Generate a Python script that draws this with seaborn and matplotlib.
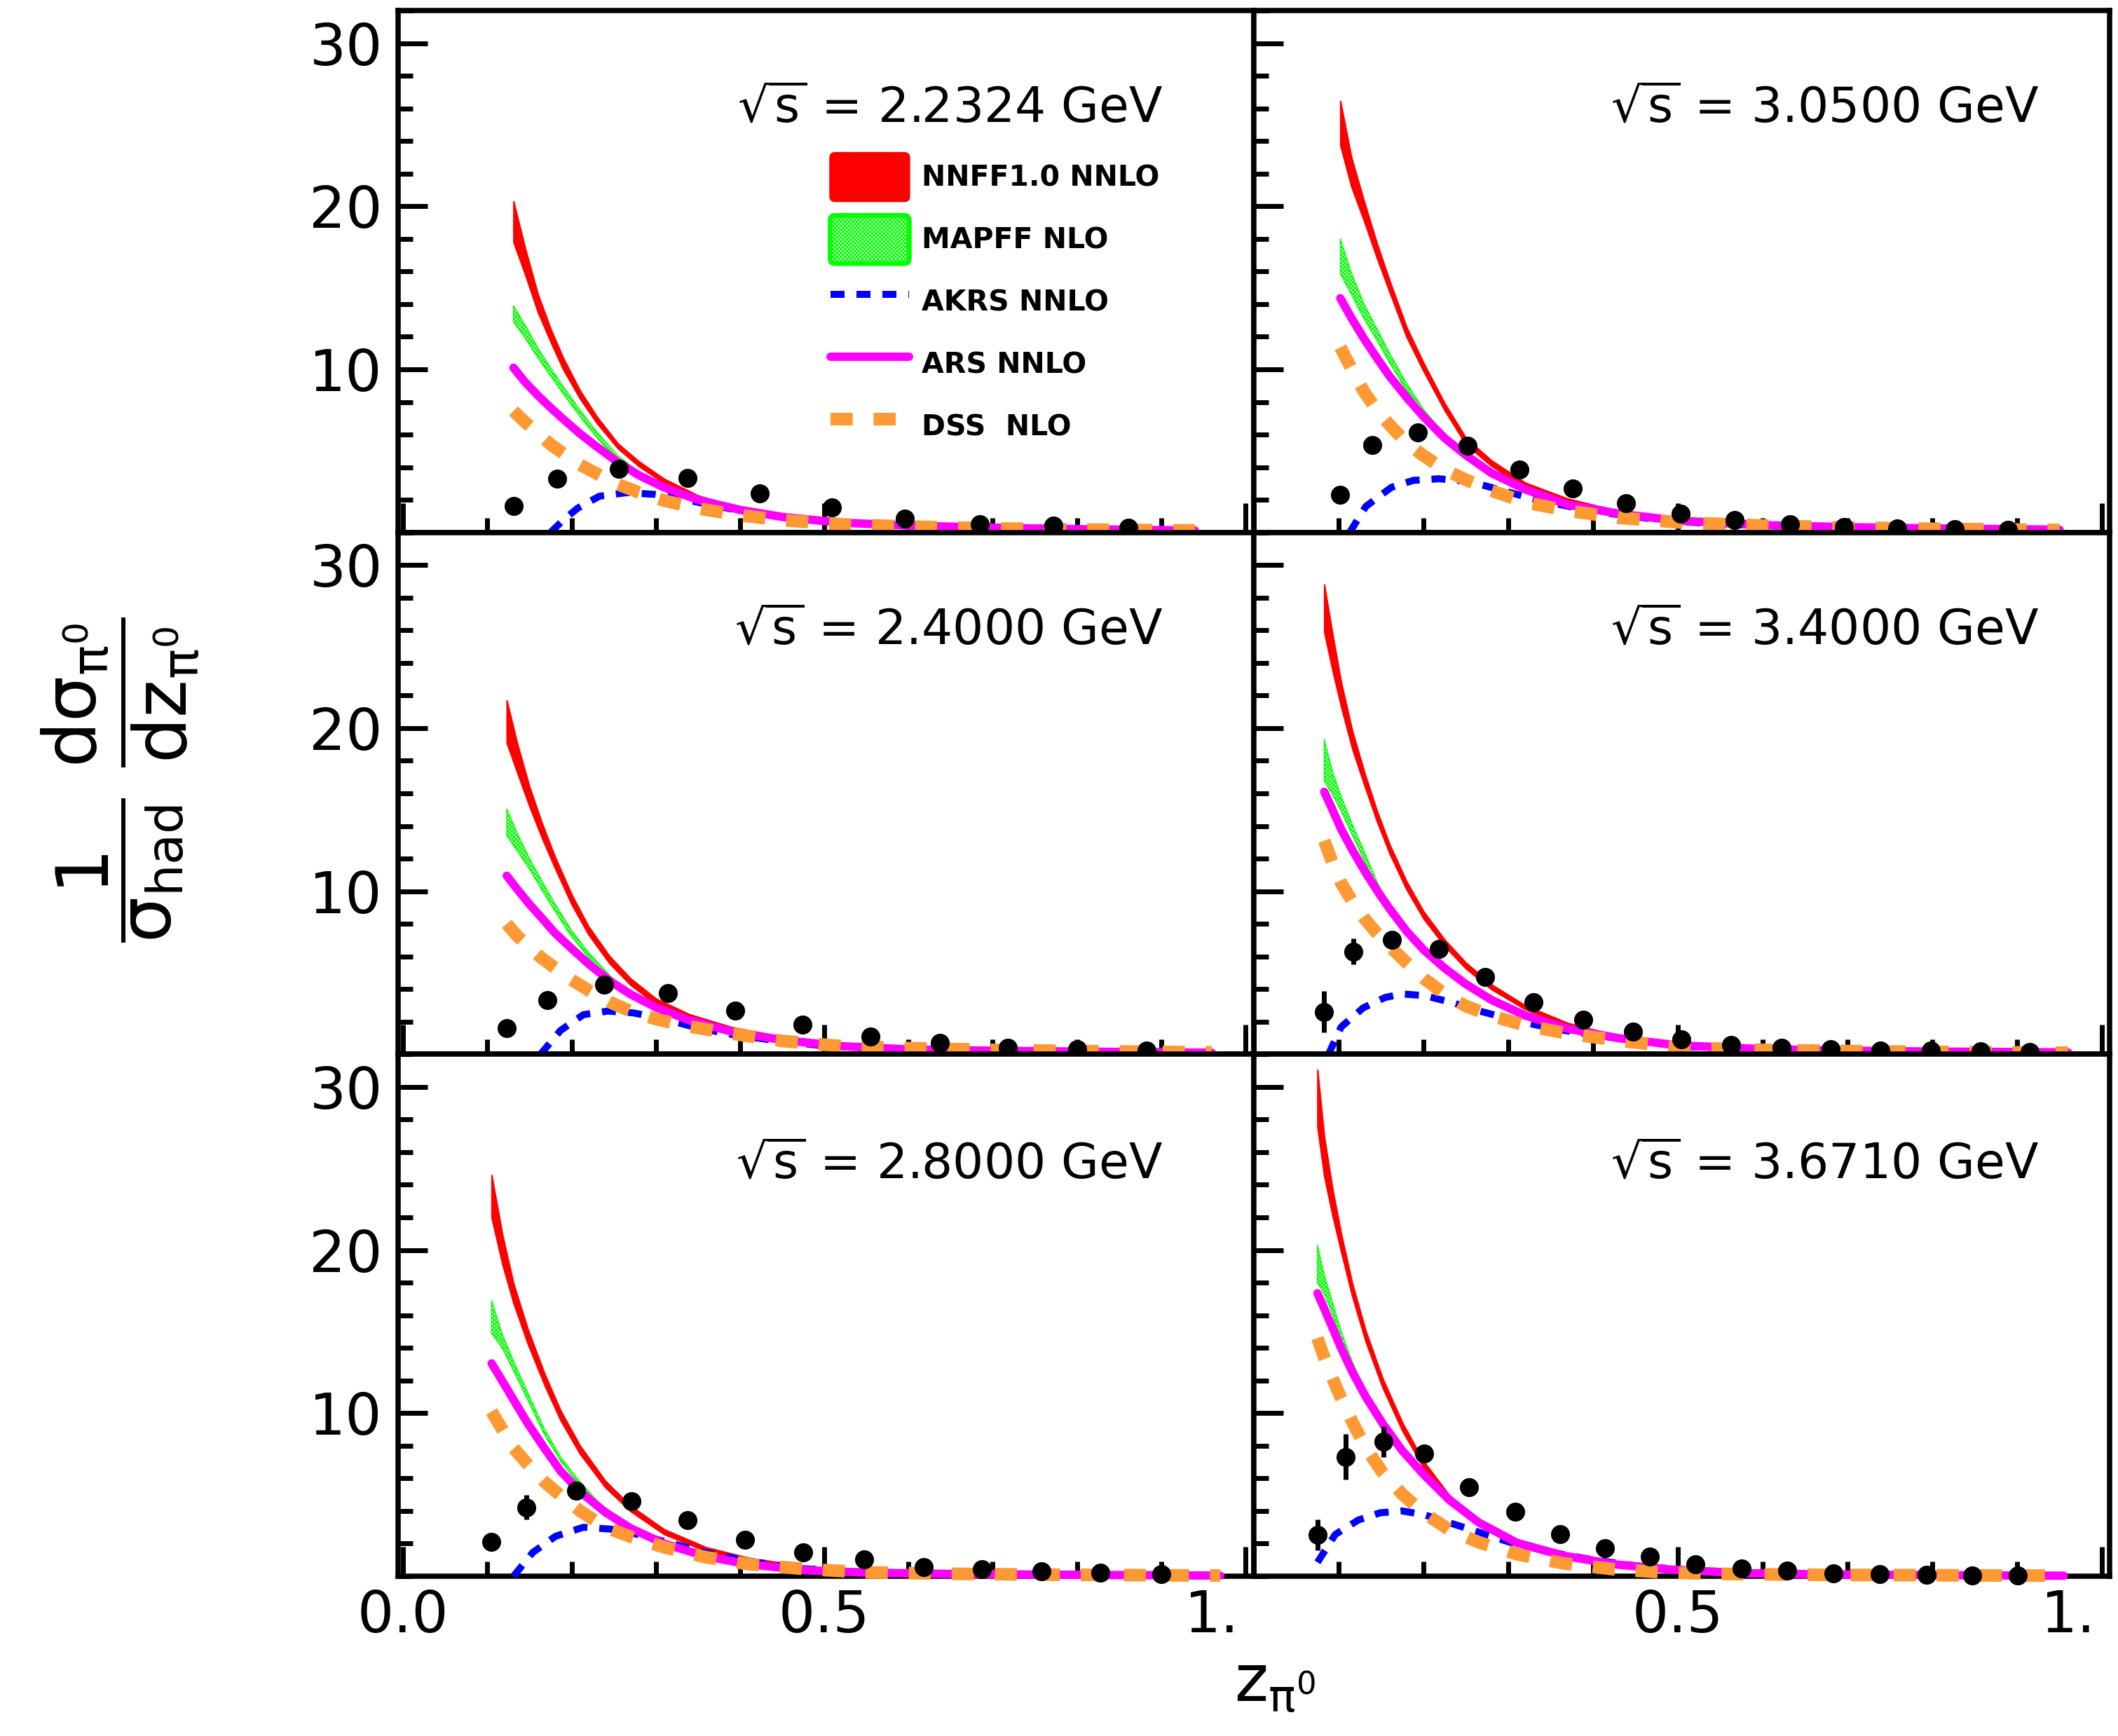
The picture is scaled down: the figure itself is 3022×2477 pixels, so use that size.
import matplotlib
matplotlib.use("Agg")
import matplotlib.pyplot as plt
import matplotlib.patches as mpatches
import matplotlib.transforms as mtransforms
from matplotlib.lines import Line2D
from matplotlib.legend_handler import HandlerPatch
from matplotlib.ticker import MultipleLocator, FixedLocator
import seaborn as sns

# ---------------------------------------------------------------------------
# sqrt(s) = 2.2324 GeV
# ---------------------------------------------------------------------------
z_pts_2232 = [0.131, 0.183, 0.256, 0.338, 0.423, 0.509, 0.596, 0.685, 0.772, 0.861]
y_pts_2232 = [1.6, 3.3, 3.9, 3.35, 2.4, 1.55, 0.85, 0.5, 0.4, 0.3]
err_2232 = [0.15, 0.2, 0.2, 0.2, 0.15, 0.15, 0.15, 0.1, 0.1, 0.1]
z_th_2232 = [0.131, 0.145, 0.16, 0.175, 0.19, 0.21, 0.23, 0.255, 0.28, 0.31, 0.35, 0.40, 0.45, 0.52, 0.60, 0.70, 0.80, 0.94]
nnff_lo_2232 = [17.8, 15.8, 13.5, 11.7, 10.0, 8.2, 6.7, 5.15, 4.05, 3.02, 2.05, 1.27, 0.77, 0.42, 0.27, 0.18, 0.13, 0.08]
nnff_hi_2232 = [20.3, 17.4, 14.6, 12.5, 10.7, 8.7, 7.1, 5.45, 4.35, 3.28, 2.27, 1.45, 0.92, 0.54, 0.37, 0.27, 0.21, 0.15]
mapff_lo_2232 = [12.9, 11.9, 10.7, 9.6, 8.5, 7.1, 5.8, 4.4, 3.5, 2.75, 1.98, 1.35, 0.9, 0.58, 0.4, 0.26, 0.18, 0.1]
mapff_hi_2232 = [13.9, 12.7, 11.3, 10.1, 8.95, 7.5, 6.15, 4.7, 3.7, 2.95, 2.1, 1.45, 1.0, 0.66, 0.46, 0.31, 0.23, 0.15]
ars_2232 = [10.1, 9.2, 8.4, 7.65, 6.95, 6.05, 5.25, 4.3, 3.5, 2.75, 2.0, 1.38, 0.95, 0.6, 0.42, 0.29, 0.2, 0.12]
dss_2232 = [7.45, 6.75, 6.1, 5.4, 4.85, 4.15, 3.6, 2.95, 2.45, 1.95, 1.47, 1.05, 0.75, 0.5, 0.36, 0.25, 0.18, 0.12]
z_akrs_2232 = [0.175, 0.19, 0.207, 0.233, 0.266, 0.299, 0.325, 0.358, 0.398, 0.45, 0.516, 0.648, 0.80, 0.937]
akrs_2232 = [0.0, 0.75, 1.48, 2.22, 2.44, 2.33, 2.12, 1.76, 1.35, 0.95, 0.6, 0.35, 0.2, 0.12]

# ---------------------------------------------------------------------------
# sqrt(s) = 3.0500 GeV
# ---------------------------------------------------------------------------
z_pts_3050 = [0.102, 0.140, 0.193, 0.252, 0.313, 0.376, 0.439, 0.503, 0.567, 0.632, 0.696, 0.759, 0.826, 0.889]
y_pts_3050 = [2.3, 5.35, 6.15, 5.3, 3.85, 2.7, 1.77, 1.13, 0.74, 0.48, 0.31, 0.25, 0.21, 0.17]
err_3050 = [0.2, 0.35, 0.3, 0.25, 0.2, 0.2, 0.15, 0.15, 0.1, 0.1, 0.1, 0.1, 0.1, 0.1]
z_th_3050 = [0.102, 0.115, 0.13, 0.145, 0.16, 0.18, 0.20, 0.225, 0.25, 0.28, 0.32, 0.37, 0.43, 0.50, 0.60, 0.70, 0.80, 0.95]
nnff_lo_3050 = [23.75, 21.2, 19.1, 16.85, 14.75, 12.0, 9.9, 7.48, 5.4, 4.08, 2.75, 1.83, 1.12, 0.67, 0.39, 0.25, 0.17, 0.1]
nnff_hi_3050 = [26.45, 23.0, 20.3, 17.75, 15.45, 12.6, 10.4, 7.92, 5.8, 4.42, 3.05, 2.07, 1.32, 0.83, 0.51, 0.35, 0.27, 0.2]
mapff_lo_3050 = [15.85, 14.6, 13.1, 11.8, 10.4, 8.7, 7.2, 5.8, 4.72, 3.62, 2.62, 1.68, 1.13, 0.7, 0.43, 0.3, 0.23, 0.15]
mapff_hi_3050 = [18.0, 15.9, 14.0, 12.5, 11.0, 9.15, 7.55, 6.0, 4.86, 3.74, 2.72, 1.76, 1.2, 0.76, 0.49, 0.35, 0.28, 0.2]
ars_3050 = [14.36, 13.15, 11.87, 10.7, 9.58, 8.28, 7.1, 5.78, 4.74, 3.64, 2.64, 1.7, 1.15, 0.72, 0.45, 0.32, 0.25, 0.17]
dss_3050 = [11.35, 10.05, 8.62, 7.5, 6.6, 5.5, 4.71, 3.85, 3.23, 2.56, 1.85, 1.33, 0.9, 0.62, 0.42, 0.3, 0.22, 0.15]
z_akrs_3050 = [0.113, 0.132, 0.162, 0.188, 0.218, 0.254, 0.287, 0.332, 0.372, 0.418, 0.483, 0.549, 0.68, 0.95]
akrs_3050 = [0.0, 1.59, 2.76, 3.19, 3.29, 3.12, 2.66, 2.02, 1.59, 1.17, 0.74, 0.5, 0.3, 0.15]

# ---------------------------------------------------------------------------
# sqrt(s) = 2.4000 GeV
# ---------------------------------------------------------------------------
z_pts_2400 = [0.123, 0.171, 0.239, 0.314, 0.394, 0.474, 0.555, 0.637, 0.718, 0.800, 0.883]
y_pts_2400 = [1.6, 3.33, 4.28, 3.77, 2.69, 1.8, 1.1, 0.7, 0.42, 0.31, 0.25]
err_2400 = [0.15, 0.2, 0.2, 0.2, 0.15, 0.15, 0.1, 0.1, 0.1, 0.1, 0.1]
z_th_2400 = [0.123, 0.135, 0.15, 0.165, 0.18, 0.2, 0.22, 0.245, 0.27, 0.3, 0.34, 0.39, 0.45, 0.52, 0.6, 0.7, 0.8, 0.96]
nnff_lo_2400 = [19.1, 17.35, 15.2, 13.25, 11.45, 9.2, 7.35, 5.58, 4.25, 3.08, 2.15, 1.43, 0.88, 0.5, 0.29, 0.17, 0.11, 0.05]
nnff_hi_2400 = [21.7, 19.15, 16.4, 14.15, 12.15, 9.8, 7.85, 6.02, 4.65, 3.42, 2.45, 1.67, 1.08, 0.66, 0.41, 0.27, 0.21, 0.15]
mapff_lo_2400 = [13.4, 12.5, 11.35, 10.05, 8.8, 7.2, 5.95, 4.65, 3.63, 2.84, 2.04, 1.36, 0.85, 0.48, 0.28, 0.2, 0.15, 0.08]
mapff_hi_2400 = [15.05, 13.6, 12.0, 10.6, 9.25, 7.6, 6.25, 4.85, 3.75, 2.94, 2.12, 1.42, 0.9, 0.53, 0.33, 0.25, 0.19, 0.13]
ars_2400 = [10.95, 10.15, 9.2, 8.33, 7.45, 6.48, 5.55, 4.51, 3.68, 2.88, 2.08, 1.39, 0.88, 0.5, 0.3, 0.22, 0.17, 0.1]
dss_2400 = [8.0, 7.28, 6.56, 5.88, 5.31, 4.57, 3.93, 3.21, 2.64, 2.16, 1.7, 1.27, 0.82, 0.5, 0.38, 0.27, 0.2, 0.12]
z_akrs_2400 = [0.163, 0.187, 0.214, 0.243, 0.273, 0.306, 0.345, 0.385, 0.437, 0.503, 0.647, 0.8, 0.963]
akrs_2400 = [0.0, 1.47, 2.43, 2.65, 2.54, 2.22, 1.68, 1.26, 0.88, 0.5, 0.25, 0.15, 0.1]

# ---------------------------------------------------------------------------
# sqrt(s) = 3.4000 GeV
# ---------------------------------------------------------------------------
z_pts_3400 = [0.083, 0.117, 0.163, 0.218, 0.273, 0.330, 0.388, 0.447, 0.504, 0.563, 0.622, 0.680, 0.739, 0.798, 0.857, 0.915]
y_pts_3400 = [2.6, 6.3, 7.0, 6.47, 4.73, 3.18, 2.12, 1.38, 0.91, 0.59, 0.42, 0.31, 0.23, 0.21, 0.17, 0.15]
err_3400 = [1.27, 0.8, 0.3, 0.25, 0.2, 0.2, 0.15, 0.15, 0.15, 0.1, 0.1, 0.1, 0.1, 0.1, 0.1, 0.1]
z_th_3400 = [0.083, 0.093, 0.103, 0.116, 0.13, 0.145, 0.16, 0.18, 0.2, 0.225, 0.25, 0.28, 0.32, 0.37, 0.43, 0.5, 0.6, 0.7, 0.8, 0.96]
nnff_lo_3400 = [25.9, 23.5, 21.3, 18.75, 16.55, 14.31, 12.32, 10.11, 8.33, 6.63, 5.26, 3.99, 2.76, 1.72, 0.97, 0.48, 0.26, 0.17, 0.12, 0.07]
nnff_hi_3400 = [28.8, 25.7, 22.8, 19.85, 17.35, 14.95, 12.88, 10.61, 8.77, 7.03, 5.62, 4.29, 3.0, 1.92, 1.13, 0.62, 0.38, 0.27, 0.22, 0.17]
mapff_lo_3400 = [16.75, 15.9, 14.9, 13.45, 11.9, 10.2, 8.93, 7.53, 6.4, 5.26, 4.28, 3.32, 2.36, 1.55, 0.97, 0.53, 0.3, 0.2, 0.15, 0.1]
mapff_hi_3400 = [19.3, 17.3, 15.8, 14.1, 12.45, 10.6, 9.15, 7.68, 6.52, 5.37, 4.38, 3.42, 2.44, 1.62, 1.03, 0.59, 0.36, 0.26, 0.21, 0.16]
ars_3400 = [16.1, 14.96, 13.8, 12.54, 11.29, 10.06, 8.93, 7.56, 6.42, 5.28, 4.3, 3.34, 2.38, 1.57, 0.99, 0.55, 0.32, 0.22, 0.17, 0.12]
dss_3400 = [13.1, 11.7, 10.5, 9.37, 8.35, 7.43, 6.63, 5.62, 4.67, 3.69, 2.96, 2.36, 1.77, 1.27, 0.85, 0.42, 0.27, 0.2, 0.15, 0.1]
z_akrs_3400 = [0.088, 0.103, 0.129, 0.155, 0.175, 0.201, 0.234, 0.267, 0.306, 0.352, 0.405, 0.464, 0.516, 0.647, 0.8, 0.962]
akrs_3400 = [0.0, 1.68, 2.85, 3.49, 3.7, 3.6, 3.17, 2.64, 2.11, 1.58, 1.15, 0.73, 0.45, 0.25, 0.15, 0.1]

# ---------------------------------------------------------------------------
# sqrt(s) = 2.8000 GeV
# ---------------------------------------------------------------------------
z_pts_2800 = [0.105, 0.146, 0.205, 0.271, 0.338, 0.406, 0.475, 0.547, 0.618, 0.687, 0.758, 0.828, 0.900]
y_pts_2800 = [2.12, 4.22, 5.25, 4.59, 3.44, 2.23, 1.46, 1.02, 0.57, 0.42, 0.3, 0.2, 0.15]
err_2800 = [0.2, 0.75, 0.3, 0.2, 0.2, 0.15, 0.15, 0.15, 0.1, 0.1, 0.1, 0.1, 0.1]
z_th_2800 = [0.105, 0.118, 0.131, 0.148, 0.168, 0.187, 0.21, 0.24, 0.27, 0.31, 0.36, 0.41, 0.48, 0.55, 0.65, 0.75, 0.85, 0.97]
nnff_lo_2800 = [22.0, 19.1, 16.75, 14.25, 11.7, 9.55, 7.5, 5.45, 3.98, 2.57, 1.53, 0.93, 0.42, 0.18, 0.08, 0.05, 0.03, 0.0]
nnff_hi_2800 = [24.6, 20.9, 17.95, 15.15, 12.4, 10.15, 8.0, 5.85, 4.32, 2.87, 1.77, 1.13, 0.58, 0.3, 0.18, 0.15, 0.13, 0.1]
mapff_lo_2800 = [14.9, 13.95, 12.6, 10.8, 8.65, 7.05, 5.55, 3.95, 2.94, 1.99, 1.2, 0.72, 0.35, 0.2, 0.12, 0.08, 0.05, 0.02]
mapff_hi_2800 = [16.9, 14.8, 13.2, 11.25, 9.0, 7.3, 5.78, 4.08, 3.04, 2.07, 1.26, 0.78, 0.4, 0.25, 0.17, 0.13, 0.1, 0.07]
ars_2800 = [13.05, 11.95, 10.82, 9.36, 7.83, 6.44, 5.19, 3.92, 2.94, 1.99, 1.21, 0.73, 0.36, 0.22, 0.14, 0.1, 0.07, 0.04]
dss_2800 = [10.1, 8.98, 7.86, 6.86, 5.77, 4.94, 4.01, 3.0, 2.42, 1.77, 1.16, 0.74, 0.43, 0.24, 0.15, 0.1, 0.07, 0.04]
z_akrs_2800 = [0.131, 0.154, 0.181, 0.214, 0.246, 0.279, 0.319, 0.358, 0.411, 0.476, 0.549, 0.647, 0.8, 0.97]
akrs_2800 = [0.0, 1.46, 2.45, 3.0, 2.89, 2.56, 2.01, 1.46, 0.91, 0.46, 0.24, 0.13, 0.07, 0.03]

# ---------------------------------------------------------------------------
# sqrt(s) = 3.6710 GeV
# ---------------------------------------------------------------------------
z_pts_3671 = [0.075, 0.108, 0.153, 0.201, 0.254, 0.308, 0.361, 0.414, 0.467, 0.521, 0.575, 0.629, 0.683, 0.738, 0.793, 0.847, 0.901]
y_pts_3671 = [2.52, 7.31, 8.26, 7.53, 5.47, 3.95, 2.56, 1.74, 1.19, 0.75, 0.46, 0.35, 0.18, 0.13, 0.1, 0.05, 0.05]
err_3671 = [0.95, 1.4, 0.95, 0.3, 0.2, 0.2, 0.2, 0.15, 0.15, 0.1, 0.1, 0.1, 0.1, 0.1, 0.1, 0.1, 0.1]
z_th_3671 = [0.075, 0.083, 0.093, 0.103, 0.116, 0.132, 0.152, 0.175, 0.2, 0.23, 0.265, 0.31, 0.365, 0.425, 0.49, 0.58, 0.68, 0.8, 0.955]
nnff_lo_3671 = [27.55, 24.54, 22.07, 19.89, 17.17, 14.37, 11.55, 8.93, 6.66, 4.64, 3.15, 1.96, 1.14, 0.61, 0.28, 0.08, 0.04, 0.01, 0.0]
nnff_hi_3671 = [31.05, 26.94, 23.67, 20.99, 17.97, 15.03, 12.11, 9.43, 7.06, 5.0, 3.45, 2.2, 1.34, 0.77, 0.42, 0.2, 0.14, 0.11, 0.08]
mapff_lo_3671 = [18.0, 17.3, 16.05, 14.45, 12.7, 11.05, 9.35, 7.68, 6.23, 4.68, 3.28, 2.03, 1.24, 0.71, 0.39, 0.16, 0.09, 0.05, 0.01]
mapff_hi_3671 = [20.3, 18.5, 16.75, 15.0, 13.15, 11.35, 9.52, 7.8, 6.34, 4.78, 3.37, 2.1, 1.3, 0.76, 0.44, 0.21, 0.14, 0.1, 0.06]
ars_3671 = [17.35, 16.41, 15.19, 13.98, 12.54, 11.0, 9.35, 7.7, 6.25, 4.7, 3.3, 2.05, 1.26, 0.73, 0.41, 0.18, 0.11, 0.07, 0.03]
dss_3671 = [14.6, 13.4, 12.1, 10.9, 9.47, 7.86, 6.34, 5.03, 3.89, 2.87, 2.08, 1.35, 0.79, 0.42, 0.21, 0.12, 0.08, 0.06, 0.03]
z_akrs_3671 = [0.075, 0.096, 0.123, 0.149, 0.175, 0.201, 0.234, 0.267, 0.306, 0.352, 0.398, 0.45, 0.516, 0.647, 0.8, 0.955]
akrs_3671 = [0.85, 2.56, 3.44, 3.89, 4.0, 3.77, 3.22, 2.67, 2.01, 1.46, 1.02, 0.64, 0.35, 0.13, 0.06, 0.02]

energies = ["2.2324", "3.0500", "2.4000", "3.4000", "2.8000", "3.6710"]
legend_labels = ["NNFF1.0 NNLO", "MAPFF NLO", "AKRS NNLO", "ARS NNLO", "DSS  NLO"]
x_tick_labels = ["0.0", "0.5", "1."]
y_tick_labels = ["10", "20", "30"]

panels = [
    (z_pts_2232, y_pts_2232, err_2232, z_th_2232, nnff_lo_2232, nnff_hi_2232,
     mapff_lo_2232, mapff_hi_2232, ars_2232, dss_2232, z_akrs_2232, akrs_2232),
    (z_pts_3050, y_pts_3050, err_3050, z_th_3050, nnff_lo_3050, nnff_hi_3050,
     mapff_lo_3050, mapff_hi_3050, ars_3050, dss_3050, z_akrs_3050, akrs_3050),
    (z_pts_2400, y_pts_2400, err_2400, z_th_2400, nnff_lo_2400, nnff_hi_2400,
     mapff_lo_2400, mapff_hi_2400, ars_2400, dss_2400, z_akrs_2400, akrs_2400),
    (z_pts_3400, y_pts_3400, err_3400, z_th_3400, nnff_lo_3400, nnff_hi_3400,
     mapff_lo_3400, mapff_hi_3400, ars_3400, dss_3400, z_akrs_3400, akrs_3400),
    (z_pts_2800, y_pts_2800, err_2800, z_th_2800, nnff_lo_2800, nnff_hi_2800,
     mapff_lo_2800, mapff_hi_2800, ars_2800, dss_2800, z_akrs_2800, akrs_2800),
    (z_pts_3671, y_pts_3671, err_3671, z_th_3671, nnff_lo_3671, nnff_hi_3671,
     mapff_lo_3671, mapff_hi_3671, ars_3671, dss_3671, z_akrs_3671, akrs_3671),
]

# ---------------------------------------------------------------------------
# style
# ---------------------------------------------------------------------------
RED = "#ff0000"
GREEN = "#00ff00"
BLUE = "#0000ff"
MAGENTA = "#ff00ff"
ORANGE = "#ff9933"
HATCH = "xxxxxx"
BLUE_LS = (0, (2.0, 1.7))
ORANGE_LS = (0, (1.75, 1.65))

sns.set_style("white")
plt.rcParams.update({
    "font.family": ["DejaVu Sans"],
    "mathtext.default": "regular",
    "mathtext.fontset": "dejavusans",
    "hatch.linewidth": 1.2,
    "text.color": "black",
    "axes.labelcolor": "black",
    "axes.edgecolor": "black",
    "xtick.color": "black",
    "ytick.color": "black",
    "xtick.direction": "in",
    "ytick.direction": "in",
    "xtick.bottom": True,
    "ytick.left": True,
})

DPI = 100
W, H = 3022, 2477
fig = plt.figure(figsize=(W / DPI, H / DPI), dpi=DPI)
gs = fig.add_gridspec(3, 2, left=568 / W, right=3010 / W,
                      top=1 - 15 / H, bottom=1 - 2249 / H,
                      wspace=0, hspace=0)

XLIM = [(-0.006, 1.010), (0.0, 1.009)]
TEXT_X = [0.8935, 0.917]
TEXT_Y = [0.7865, 0.786, 0.763]
label_shift = mtransforms.ScaledTranslation(-48 / DPI, 0, fig.dpi_scale_trans)

axes = []
for i, data in enumerate(panels):
    (z_pts, y_pts, err, z_th, nn_lo, nn_hi, mp_lo, mp_hi,
     ars, dss, z_ak, akrs) = data
    r, c = divmod(i, 2)
    ax = fig.add_subplot(gs[r, c])
    axes.append(ax)

    # NNFF1.0 uncertainty band
    ax.fill_between(z_th, nn_lo, nn_hi, facecolor=RED, edgecolor=RED,
                    linewidth=1.5, zorder=2)
    # MAPFF uncertainty band (hatched)
    ax.fill_between(z_th, mp_lo, mp_hi, facecolor="none", edgecolor=GREEN,
                    hatch=HATCH, linewidth=1.0, zorder=3)
    # AKRS, ARS, DSS central curves
    sns.lineplot(x=z_ak, y=akrs, ax=ax, color=BLUE, linewidth=7.2,
                 linestyle=BLUE_LS, estimator=None, errorbar=None,
                 sort=False, zorder=4, clip_on=False)
    sns.lineplot(x=z_th, y=ars, ax=ax, color=MAGENTA, linewidth=8.6,
                 estimator=None, errorbar=None, sort=False, zorder=5,
                 clip_on=False)
    sns.lineplot(x=z_th, y=dss, ax=ax, color=ORANGE, linewidth=13,
                 linestyle=ORANGE_LS, estimator=None, errorbar=None,
                 sort=False, zorder=6, clip_on=False)
    # measured points
    ax.errorbar(z_pts, y_pts, yerr=err, fmt="none", ecolor="black",
                elinewidth=5, capsize=0, zorder=7, clip_on=False)
    sns.scatterplot(x=z_pts, y=y_pts, ax=ax, color="black", s=380,
                    linewidth=0, zorder=8, clip_on=False, legend=False)

    ax.set_xlim(*XLIM[c])
    ax.set_ylim(0, 32)
    ax.set_xlabel("")
    ax.set_ylabel("")
    for sp in ax.spines.values():
        sp.set_linewidth(5.4)
        sp.set_color("black")

    ax.xaxis.set_major_locator(FixedLocator([0.0, 0.5, 1.0]))
    ax.xaxis.set_minor_locator(MultipleLocator(0.1))
    ax.yaxis.set_major_locator(FixedLocator([10, 20, 30]))
    ax.yaxis.set_minor_locator(MultipleLocator(2))
    ax.tick_params(which="both", direction="in", bottom=True, left=True,
                   top=False, right=False, color="black", width=5)
    ax.tick_params(which="major", length=30)
    ax.tick_params(which="minor", length=15)
    ax.tick_params(axis="y", labelsize=59, pad=16, labelcolor="black")
    ax.tick_params(axis="x", labelsize=59, pad=13, labelcolor="black")

    if c == 0:
        ax.set_yticklabels(y_tick_labels)
    else:
        ax.tick_params(axis="y", labelleft=False)

    if r == 2:
        labels = list(x_tick_labels) if c == 0 else [""] + x_tick_labels[1:]
        ax.set_xticklabels(labels)
        last = ax.get_xticklabels()[2]
        last.set_transform(last.get_transform() + label_shift)
    else:
        ax.tick_params(axis="x", labelbottom=False)

    ax.text(TEXT_X[c], TEXT_Y[r], r"$\sqrt{s}$ = " + energies[i] + " GeV",
            transform=ax.transAxes, ha="right", va="baseline", fontsize=50,
            color="black", zorder=9)


# legend (top-left panel) with rounded boxes for the bands
def rounded_box(legend, orig_handle, xdescent, ydescent, width, height, fontsize):
    return mpatches.FancyBboxPatch((-xdescent, -ydescent), width, height,
                                   boxstyle="round,pad=0,rounding_size=5")


handles = [
    mpatches.Patch(facecolor=RED, edgecolor=RED, linewidth=2),
    mpatches.Patch(facecolor="white", edgecolor=GREEN, hatch=HATCH, linewidth=5),
    Line2D([], [], color=BLUE, linewidth=7.2, linestyle=BLUE_LS),
    Line2D([], [], color=MAGENTA, linewidth=8.6),
    Line2D([], [], color=ORANGE, linewidth=13, linestyle=ORANGE_LS),
]
leg = axes[0].legend(handles, legend_labels, loc="upper left",
                     bbox_to_anchor=(0.505, 0.727), frameon=False,
                     prop={"weight": "bold", "size": 29.5},
                     handlelength=2.75, handleheight=2.2, handletextpad=0.44,
                     labelspacing=0.5, borderpad=0, borderaxespad=0,
                     handler_map={mpatches.Patch: HandlerPatch(patch_func=rounded_box)})
leg.set_zorder(10)

# axis titles
fig.text(0.057, 0.551,
         r"$\dfrac{1}{\sigma_{had}}\ \dfrac{d\sigma_{\pi^{0}}}{dz_{\pi^{0}}}$",
         rotation=90, ha="center", va="center", fontsize=74)
fig.text(1819 / W, 1 - 2428 / H, r"$z_{\pi^{0}}$", ha="center",
         va="baseline", fontsize=66)

fig.savefig("out.png", dpi=DPI)
